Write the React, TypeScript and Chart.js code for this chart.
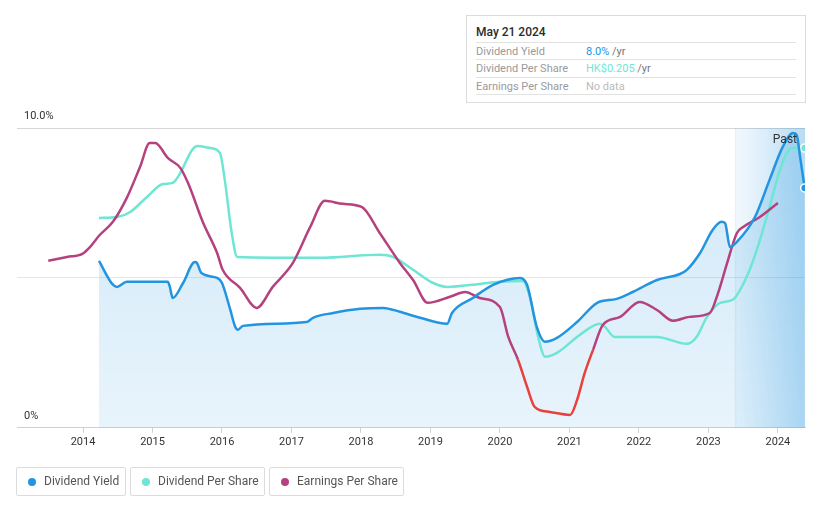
import React, { useEffect, useRef } from "react";
import { Chart, registerables } from "chart.js";

Chart.register(...registerables);

// ---- data ----
const yearTicks = [2014, 2015, 2016, 2017, 2018, 2019, 2020, 2021, 2022, 2023, 2024];
const yTickLabels: Record<number, string> = { 0: "0%", 10: "10.0%" };

const yieldDates = [
  2014.23, 2014.42, 2014.49, 2014.63, 2015.22, 2015.25, 2015.29, 2015.44, 2015.61, 2015.64,
  2015.7, 2015.93, 2016.0, 2016.12, 2016.19, 2016.23, 2016.3, 2017.22, 2017.31, 2017.6,
  2017.99, 2018.32, 2018.56, 2018.85, 2019.24, 2019.31, 2019.61, 2019.9, 2020.29, 2020.39,
  2020.53, 2020.65, 2020.82, 2021.11, 2021.4, 2021.68, 2021.91, 2022.26, 2022.59, 2022.69,
  2022.88, 2023.06, 2023.19, 2023.24, 2023.31, 2023.41, 2023.67, 2023.88, 2024.07, 2024.22,
  2024.27, 2024.32, 2024.385,
];
const yieldValues = [
  5.57, 4.8, 4.7, 4.87, 4.87, 4.7, 4.33, 4.83, 5.53, 5.5,
  5.17, 5.0, 4.83, 3.93, 3.37, 3.27, 3.4, 3.53, 3.67, 3.83,
  3.97, 4.0, 3.87, 3.67, 3.47, 3.83, 4.33, 4.77, 5.0, 4.77,
  3.37, 2.87, 3.0, 3.53, 4.17, 4.3, 4.53, 4.93, 5.13, 5.27,
  5.83, 6.6, 6.87, 6.83, 6.03, 6.2, 7.03, 8.27, 9.37, 9.83,
  9.77, 9.03, 8.0,
];

const dpsDates = [
  2014.23, 2014.49, 2014.68, 2014.92, 2015.15, 2015.29, 2015.4, 2015.57, 2015.65, 2015.83,
  2015.97, 2016.04, 2016.14, 2016.22, 2017.41, 2018.27, 2018.46, 2018.75, 2019.04, 2019.24,
  2019.71, 2020.0, 2020.33, 2020.43, 2020.55, 2020.65, 2020.82, 2021.15, 2021.44, 2021.51,
  2021.65, 2022.26, 2022.69, 2022.83, 2022.98, 2023.17, 2023.35, 2023.55, 2023.71, 2023.88,
  2024.03, 2024.2, 2024.32, 2024.385,
];
const dpsValues = [
  7.0, 7.03, 7.2, 7.7, 8.13, 8.17, 8.5, 9.27, 9.4, 9.33,
  9.17, 8.27, 6.5, 5.7, 5.67, 5.77, 5.7, 5.27, 4.83, 4.7,
  4.8, 4.87, 4.9, 4.37, 3.03, 2.37, 2.5, 3.1, 3.47, 3.37,
  3.03, 3.03, 2.8, 3.03, 3.7, 4.17, 4.27, 5.03, 6.03, 7.37,
  8.6, 9.33, 9.33, 9.33,
];

const epsDates = [
  2013.5, 2013.77, 2013.99, 2014.1, 2014.24, 2014.43, 2014.63, 2014.82, 2014.96, 2015.04,
  2015.22, 2015.4, 2015.51, 2015.73, 2015.93, 2016.01, 2016.26, 2016.5, 2016.73, 2017.02,
  2017.27, 2017.48, 2017.74, 2018.01, 2018.27, 2018.56, 2018.75, 2018.96, 2019.28, 2019.5,
  2019.71, 2020.0, 2020.12, 2020.26, 2020.39, 2020.5, 2020.72, 2021.01, 2021.11, 2021.22,
  2021.34, 2021.48, 2021.73, 2022.01, 2022.26, 2022.49, 2022.73, 2023.02, 2023.14, 2023.27,
  2023.41, 2023.5, 2023.74, 2024.0,
];
const epsValues = [
  5.57, 5.7, 5.8, 6.03, 6.43, 6.87, 7.67, 8.7, 9.5, 9.5,
  9.0, 8.67, 8.17, 6.83, 5.83, 5.27, 4.67, 4.0, 4.7, 5.5,
  6.7, 7.57, 7.47, 7.37, 6.5, 5.5, 4.93, 4.17, 4.37, 4.53,
  4.33, 4.03, 3.03, 2.27, 1.37, 0.7, 0.53, 0.43, 0.93, 1.83,
  2.6, 3.43, 3.7, 4.2, 3.93, 3.57, 3.7, 3.83, 4.5, 5.5,
  6.5, 6.7, 7.03, 7.5,
];

const epsNegativeBelow = 2.35;
const xMin = 2013.05;
const xMax = 2024.39;
const pastStart = 2023.38;

const BLUE = "#2394df";
const TEAL = "#6ee6d3";
const MAGENTA = "#b5417f";
const RED = "#e8413b";
const FONT = "Roboto, 'Noto Sans', sans-serif";

const pts = (xs: number[], ys: number[]) => xs.map((x, i) => ({ x, y: ys[i] }));

export default function App() {
  const ref = useRef<HTMLCanvasElement>(null);

  useEffect(() => {
    const canvas = ref.current!;
    const pastPlugin = {
      id: "pastRegion",
      beforeDatasetsDraw(chart: any) {
        const { ctx, chartArea, scales } = chart;
        const x0 = scales.x.getPixelForValue(pastStart);
        const x1 = chartArea.right;
        const g = ctx.createLinearGradient(x0, 0, x1, 0);
        g.addColorStop(0, "rgba(35,148,223,0.05)");
        g.addColorStop(1, "rgba(35,148,223,0.32)");
        ctx.save();
        ctx.fillStyle = g;
        ctx.fillRect(x0, chartArea.top, x1 - x0, chartArea.bottom - chartArea.top);
        ctx.fillStyle = "rgba(35,148,223,0.08)";
        ctx.fillRect(x0, chartArea.top, 1.5, chartArea.bottom - chartArea.top);
        ctx.restore();
      },
      afterDraw(chart: any) {
        const { ctx, chartArea } = chart;
        ctx.save();
        ctx.font = `12px ${FONT}`;
        ctx.fillStyle = "#333";
        ctx.textAlign = "right";
        ctx.textBaseline = "middle";
        ctx.fillText("Past", chartArea.right - 8, chartArea.top + 12);
        ctx.restore();
      },
    };

    const lastRadius = (n: number) => (c: any) => (c.dataIndex === n - 1 ? 4 : 0);

    const chart = new Chart(canvas, {
      type: "line",
      data: {
        datasets: [
          {
            label: "Dividend Yield",
            data: pts(yieldDates, yieldValues),
            borderColor: BLUE,
            borderWidth: 2.5,
            pointRadius: lastRadius(yieldDates.length),
            pointBackgroundColor: BLUE,
            pointBorderColor: "#fff",
            pointBorderWidth: 1.5,
            cubicInterpolationMode: "monotone",
            fill: "origin",
            backgroundColor: (c: any) => {
              const area = c.chart.chartArea;
              if (!area) return "rgba(35,148,223,0.15)";
              const g = c.chart.ctx.createLinearGradient(0, area.top, 0, area.bottom);
              g.addColorStop(0, "rgba(35,148,223,0.22)");
              g.addColorStop(1, "rgba(35,148,223,0.1)");
              return g;
            },
          },
          {
            label: "Earnings Per Share",
            data: pts(epsDates, epsValues),
            borderColor: MAGENTA,
            borderWidth: 2.5,
            pointRadius: 0,
            cubicInterpolationMode: "monotone",
            fill: false,
            segment: {
              borderColor: (c: any) =>
                (c.p0.parsed.y + c.p1.parsed.y) / 2 < epsNegativeBelow ? RED : MAGENTA,
            },
          },
          {
            label: "Dividend Per Share",
            data: pts(dpsDates, dpsValues),
            borderColor: TEAL,
            borderWidth: 2.5,
            pointRadius: lastRadius(dpsDates.length),
            pointBackgroundColor: TEAL,
            pointBorderColor: "#fff",
            pointBorderWidth: 1.5,
            cubicInterpolationMode: "monotone",
            fill: false,
          },
        ] as any,
      },
      options: {
        responsive: false,
        animation: false,
        layout: { padding: { left: 3, right: 16, top: 128, bottom: 56 } },
        plugins: {
          legend: { display: false },
          tooltip: { enabled: false },
          filler: { drawTime: "beforeDatasetsDraw" } as any,
        },
        scales: {
          x: {
            type: "linear",
            min: xMin,
            max: xMax,
            afterBuildTicks: (s: any) => {
              s.ticks = yearTicks.map((v) => ({ value: v }));
            },
            grid: { drawOnChartArea: false, drawTicks: true, tickLength: 5, color: "#d0d0d0" },
            border: { color: "#cfcfcf", width: 1 },
            ticks: {
              padding: 3,
              color: "#333",
              font: { family: FONT, size: 11 },
              maxRotation: 0,
              callback: (v: any) => String(v),
            },
          },
          y: {
            min: 0,
            max: 10,
            afterBuildTicks: (s: any) => {
              s.ticks = [0, 5, 10].map((v) => ({ value: v }));
            },
            grid: { drawTicks: false, color: (c: any) => (c.tick && c.tick.value === 10 ? "#d6d6d6" : "#e6e6e6") },
            border: { display: false },
            ticks: {
              mirror: true,
              padding: 7,
              labelOffset: -12,
              color: "#333",
              font: { family: FONT, size: 11 },
              callback: (v: any) => yTickLabels[v as number] ?? "",
            },
          },
        },
      },
      plugins: [pastPlugin],
    });
    return () => chart.destroy();
  }, []);

  const row = (label: string, value: React.ReactNode, top: number) => (
    <div
      style={{
        position: "absolute",
        left: 9,
        right: 9,
        top,
        height: 17,
        borderTop: "1px solid #e2e2e2",
        fontSize: 11,
        lineHeight: "17px",
        color: "#9a9a9a",
      }}
    >
      <span style={{ position: "absolute", left: 0 }}>{label}</span>
      <span style={{ position: "absolute", left: 110 }}>{value}</span>
    </div>
  );

  const legendItem = (label: string, color: string, left: number, width: number) => (
    <div
      style={{
        position: "absolute",
        left,
        top: 467,
        width,
        height: 29,
        boxSizing: "border-box",
        border: "1px solid #dcdcdc",
        borderRadius: 2,
        fontSize: 12,
        color: "#555",
        lineHeight: "27px",
      }}
    >
      <span
        style={{
          position: "absolute",
          left: 11,
          top: 10,
          width: 8,
          height: 8,
          borderRadius: 4,
          background: color,
        }}
      />
      <span style={{ position: "absolute", left: 27 }}>{label}</span>
    </div>
  );

  return (
    <div
      style={{
        position: "absolute",
        left: 0,
        top: 0,
        width: 821,
        height: 508,
        background: "#fff",
        fontFamily: FONT,
        overflow: "hidden",
      }}
    >
      <canvas ref={ref} width={821} height={508} style={{ position: "absolute", left: 0, top: 0 }} />
      <div
        style={{
          position: "absolute",
          left: 466,
          top: 15,
          width: 340,
          height: 88,
          boxSizing: "border-box",
          border: "1px solid #dcdcdc",
          background: "#fff",
        }}
      >
        <div
          style={{
            position: "absolute",
            left: 9,
            top: 9,
            fontSize: 12,
            fontWeight: 500,
            color: "#2b2b2b",
          }}
        >
          May 21 2024
        </div>
        {row(
          "Dividend Yield",
          <>
            <span style={{ color: BLUE }}>8.0%</span>
            <span style={{ color: "#777" }}> /yr</span>
          </>,
          26
        )}
        {row(
          "Dividend Per Share",
          <>
            <span style={{ color: TEAL }}>HK$0.205</span>
            <span style={{ color: "#777" }}> /yr</span>
          </>,
          43
        )}
        {row("Earnings Per Share", <span style={{ color: "#bbb" }}>No data</span>, 61)}
        <div style={{ position: "absolute", left: 9, right: 9, top: 78, borderTop: "1px solid #e2e2e2" }} />
      </div>
      {legendItem("Dividend Yield", BLUE, 16, 110)}
      {legendItem("Dividend Per Share", TEAL, 130, 135)}
      {legendItem("Earnings Per Share", MAGENTA, 269, 135)}
    </div>
  );
}
